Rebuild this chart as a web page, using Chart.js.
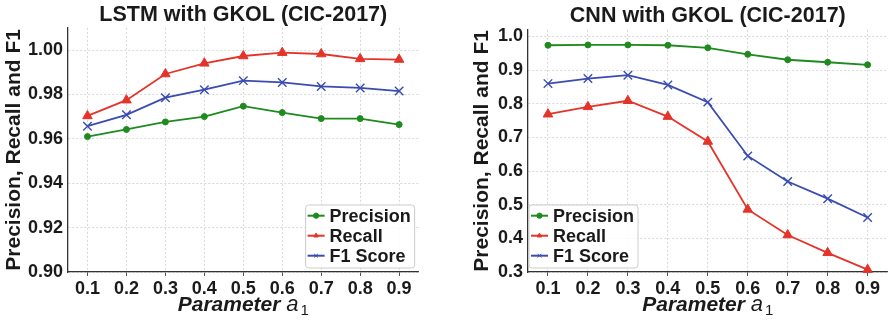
<!DOCTYPE html>
<html>
<head>
<meta charset="utf-8">
<script src="https://cdn.jsdelivr.net/npm/chart.js@4.4.1/dist/chart.umd.min.js"></script>
<style>
  body { margin: 0; background: #fff; }
  #wrap { position: relative; width: 895px; height: 320px; }
  canvas { position: absolute; top: 0; }
</style>
</head>
<body>
<div id="wrap">
  <canvas id="lstmChart" width="426" height="320" style="left:0"></canvas>
  <canvas id="cnnChart" width="427" height="320" style="left:468px"></canvas>
</div>
<script>
// values
const paramValues = [0.1, 0.2, 0.3, 0.4, 0.5, 0.6, 0.7, 0.8, 0.9];
const seriesNames = ['Precision', 'Recall', 'F1 Score'];

const lstmPrecision = [0.961, 0.9642, 0.9676, 0.970, 0.9747, 0.9718, 0.9691, 0.9691, 0.9664];
const lstmRecall = [0.9703, 0.9774, 0.9892, 0.9940, 0.9973, 0.9988, 0.9982, 0.9960, 0.9957];
const lstmF1 = [0.9657, 0.9708, 0.9785, 0.9821, 0.9862, 0.9854, 0.9836, 0.9829, 0.9815];
const lstmYTicks = [0.90, 0.92, 0.94, 0.96, 0.98, 1.00];

const cnnPrecision = [0.974, 0.975, 0.975, 0.974, 0.9665, 0.947, 0.931, 0.9235, 0.916];
const cnnRecall = [0.769, 0.791, 0.809, 0.762, 0.688, 0.486, 0.410, 0.357, 0.307];
const cnnF1 = [0.860, 0.875, 0.885, 0.856, 0.805, 0.645, 0.569, 0.518, 0.462];
const cnnYTicks = [0.3, 0.4, 0.5, 0.6, 0.7, 0.8, 0.9, 1.0];

const FONT = "'Liberation Sans', Arial, sans-serif";
const TEXT = '#1a1a1a';
const GREEN = '#1f8a1f', RED = '#e4342a', BLUE = '#3a4cb0';

// legend drawn inside the plot area, like matplotlib
const boxLegend = {
    id: 'boxLegend',
    afterDatasetsDraw(chart, args, opts) {
        const ctx = chart.ctx, area = chart.chartArea;
        const w = 109, h = 63;
        const x = opts.corner === 'left' ? area.left + 1 : area.right - 4 - w;
        const y = area.bottom - 4 - h;
        ctx.save();
        ctx.beginPath();
        ctx.roundRect(x, y, w, h, 3);
        ctx.fillStyle = 'rgba(255,255,255,0.85)';
        ctx.fill();
        ctx.strokeStyle = '#cccccc';
        ctx.lineWidth = 1;
        ctx.stroke();
        chart.data.datasets.forEach((ds, i) => {
            const cy = y + 10.7 + i * 20;
            ctx.strokeStyle = ds.borderColor;
            ctx.fillStyle = ds.borderColor;
            ctx.lineWidth = 2;
            ctx.beginPath();
            ctx.moveTo(x + 2, cy);
            ctx.lineTo(x + 19, cy);
            ctx.stroke();
            ctx.lineWidth = 1;
            Chart.helpers.drawPoint(ctx, { pointStyle: ds.pointStyle, radius: 2.6, borderWidth: 1, rotation: 0 }, x + 10.5, cy);
            ctx.fillStyle = TEXT;
            ctx.font = 'bold 18px ' + FONT;
            ctx.textBaseline = 'middle';
            ctx.textAlign = 'left';
            ctx.fillText(ds.label, x + 24, cy + 1);
        });
        ctx.restore();
    }
};

// x axis title: "Parameter" bold italic, then math-style a with subscript 1
const xTitle = {
    id: 'xTitle',
    afterDraw(chart) {
        const ctx = chart.ctx, area = chart.chartArea;
        const p1 = 'Parameter ', p2 = 'a', p3 = '1';
        ctx.save();
        ctx.fillStyle = TEXT;
        ctx.textBaseline = 'alphabetic';
        ctx.textAlign = 'left';
        const f1 = 'italic bold 21px ' + FONT, f2 = 'italic 22px ' + FONT, f3 = '15px ' + FONT;
        ctx.font = f1; const w1 = ctx.measureText(p1).width;
        ctx.font = f2; const w2 = ctx.measureText(p2).width;
        ctx.font = f3; const w3 = ctx.measureText(p3).width;
        let x = (area.left + area.right) / 2 - (w1 + w2 + 2 + w3) / 2;
        const base = 311;
        ctx.font = f1; ctx.fillText(p1, x, base); x += w1;
        ctx.font = f2; ctx.fillText(p2, x, base); x += w2 + 2;
        ctx.font = f3; ctx.fillText(p3, x, base + 4);
        ctx.restore();
    }
};

function makeDatasets(prec, rec, f1) {
    return [
        { label: seriesNames[0], data: prec.map((v, i) => ({ x: paramValues[i], y: v })), borderColor: GREEN, backgroundColor: GREEN, pointStyle: 'circle', pointRadius: 3, pointBorderWidth: 1, borderWidth: 1.8 },
        { label: seriesNames[1], data: rec.map((v, i) => ({ x: paramValues[i], y: v })), borderColor: RED, backgroundColor: RED, pointStyle: 'triangle', pointRadius: 5.5, pointBorderWidth: 1, borderWidth: 1.8 },
        { label: seriesNames[2], data: f1.map((v, i) => ({ x: paramValues[i], y: v })), borderColor: BLUE, backgroundColor: BLUE, pointStyle: 'crossRot', pointRadius: 6, pointBorderWidth: 1.4, borderWidth: 1.8 }
    ];
}

function makeChart(id, title, datasets, yMin, yMax, yTicks, decimals, yWidth, legendCorner, titlePad) {
    const ctx = document.getElementById(id).getContext('2d');
    return new Chart(ctx, {
        type: 'line',
        data: { datasets: datasets },
        plugins: [boxLegend, xTitle],
        options: {
            responsive: false,
            animation: false,
            clip: false,
            layout: { padding: { left: 0, right: id === 'lstmChart' ? 4 : 0, top: 0, bottom: 20 } },
            elements: { line: { tension: 0 } },
            scales: {
                x: {
                    type: 'linear',
                    min: 0.05,
                    max: 0.95,
                    afterBuildTicks: scale => { scale.ticks = paramValues.map(v => ({ value: v })); },
                    afterFit: scale => { scale.height = 28; },
                    border: { display: true, color: '#333', width: 1.3, dash: [2, 2] },
                    grid: { color: '#cfcfcf', lineWidth: 0.8, drawTicks: true, tickLength: 4, tickColor: '#555', tickBorderDash: [], tickWidth: 1 },
                    ticks: { padding: 2, color: TEXT, font: { family: FONT, size: 18, weight: 'bold' }, maxRotation: 0, callback: v => v.toFixed(1) }
                },
                y: {
                    min: yMin,
                    max: yMax,
                    afterBuildTicks: scale => { scale.ticks = yTicks.map(v => ({ value: v })); },
                    afterFit: scale => { scale.width = yWidth; },
                    border: { display: true, color: '#333', width: 1.3, dash: [2, 2] },
                    grid: { color: '#cfcfcf', lineWidth: 0.8, drawTicks: false },
                    title: { display: true, text: 'Precision, Recall and F1', color: TEXT, font: { family: FONT, size: 21, weight: 'bold', lineHeight: 1.2 }, padding: { top: 2, bottom: 0 } },
                    ticks: { padding: 5, color: TEXT, font: { family: FONT, size: 18, weight: 'bold' }, callback: v => v.toFixed(decimals) }
                }
            },
            plugins: {
                legend: { display: false },
                tooltip: { enabled: false },
                boxLegend: { corner: legendCorner },
                title: {
                    display: true,
                    text: title,
                    fullSize: false,
                    color: TEXT,
                    font: { family: FONT, size: 21.5, weight: 'bold', lineHeight: 1.2 },
                    padding: titlePad
                }
            }
        }
    });
}

makeChart('lstmChart', 'LSTM with GKOL (CIC-2017)', makeDatasets(lstmPrecision, lstmRecall, lstmF1),
    0.9, 1.01, lstmYTicks, 2, 68, 'right', { top: 2, bottom: 0 });
makeChart('cnnChart', 'CNN with GKOL (CIC-2017)', makeDatasets(cnnPrecision, cnnRecall, cnnF1),
    0.3, 1.02, cnnYTicks, 1, 60, 'left', { top: 3, bottom: 1 });
</script>
</body>
</html>
